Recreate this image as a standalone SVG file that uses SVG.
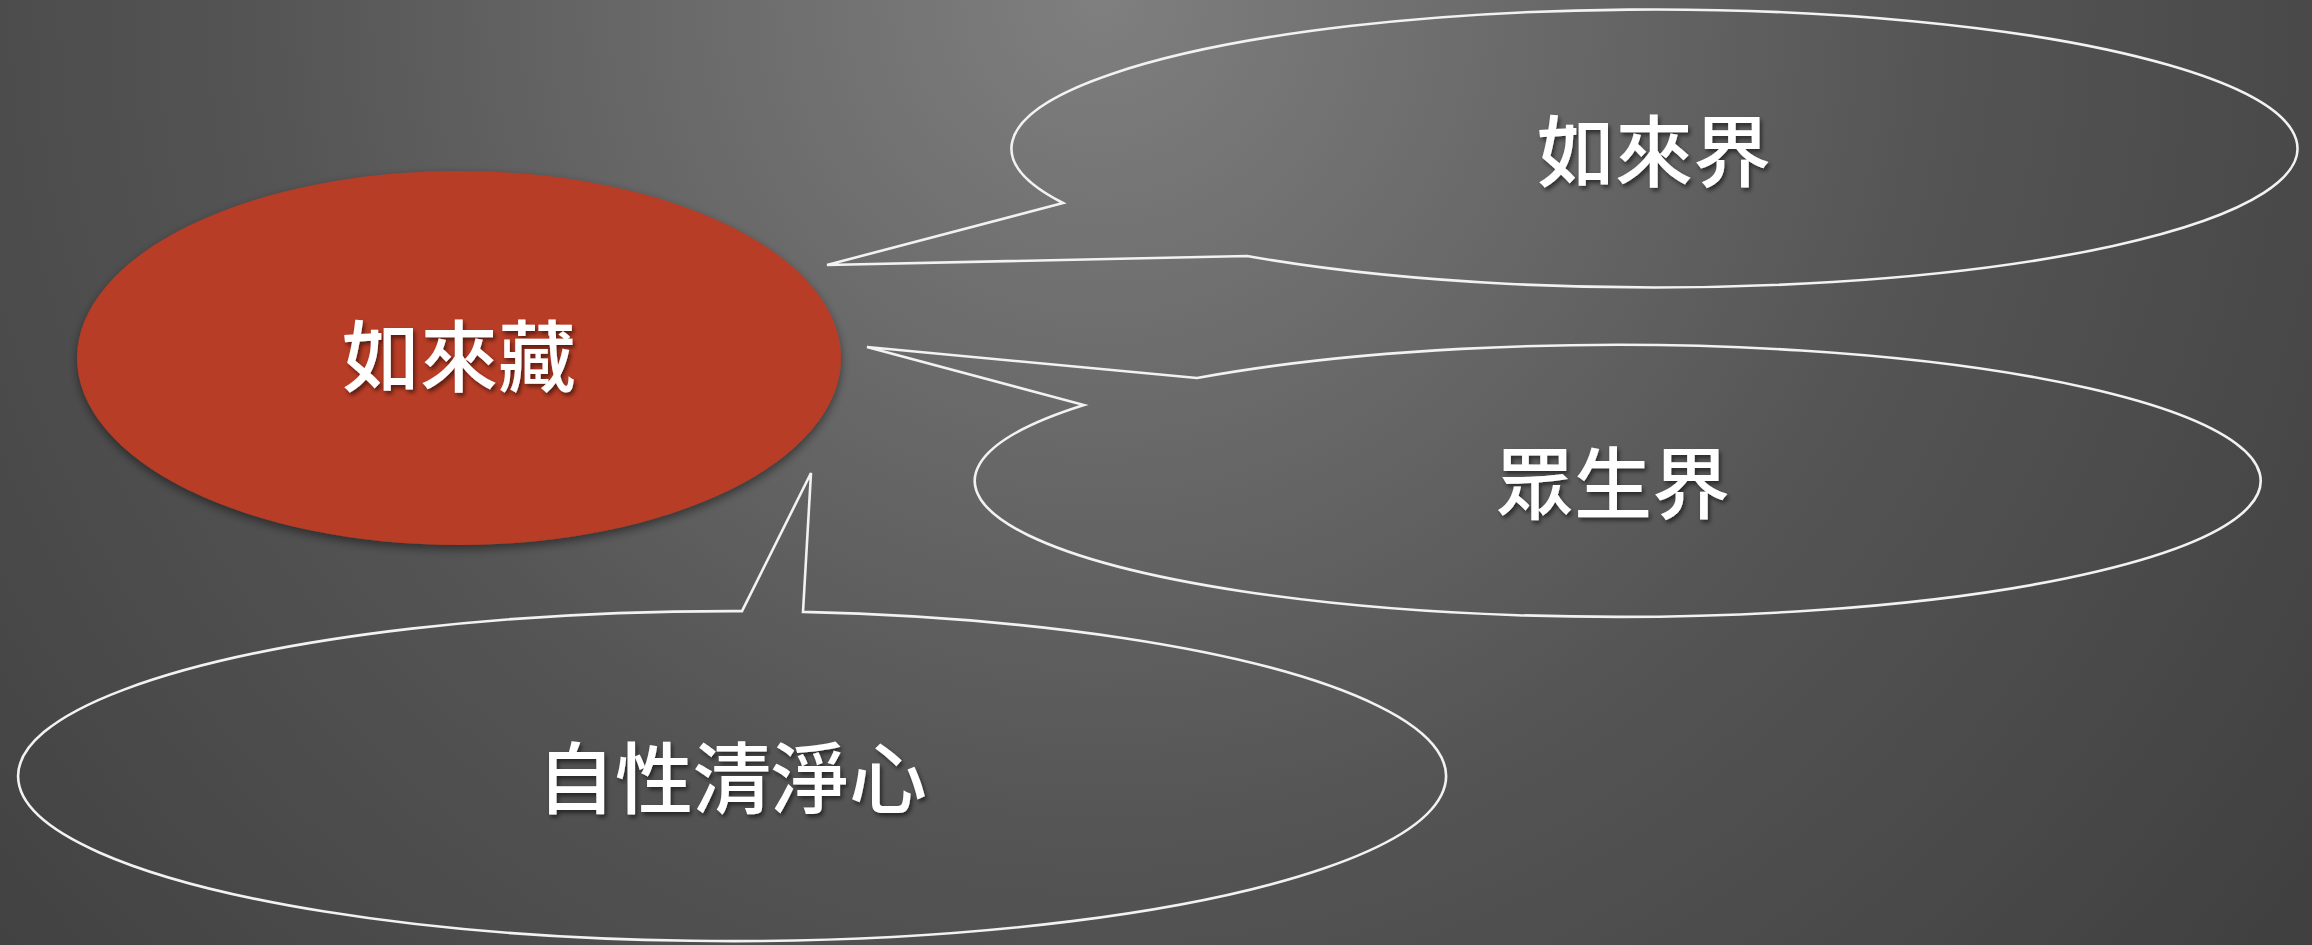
<svg xmlns="http://www.w3.org/2000/svg" width="2312" height="945" viewBox="0 0 2312 945">
<style>
.lbl{font-family:"Noto Sans CJK TC","Noto Sans CJK SC",sans-serif;font-size:78px;font-weight:500;fill:#ffffff;text-anchor:middle;filter:url(#tshadow)}
.bubble{fill:none;stroke:#f2f2f2;stroke-width:2.6;stroke-linejoin:miter}
</style>
<defs>
<radialGradient id="bg" gradientUnits="userSpaceOnUse" cx="1100" cy="0" r="1700">
<stop offset="0" stop-color="#7f7f7f"/>
<stop offset="0.5" stop-color="#545454"/>
<stop offset="1" stop-color="#3a3a3a"/>
</radialGradient>
<filter id="tshadow" x="-20%" y="-20%" width="140%" height="140%">
<feDropShadow dx="2" dy="3" stdDeviation="2" flood-color="#000" flood-opacity="0.55"/>
</filter>
<filter id="eshadow" x="-10%" y="-10%" width="120%" height="125%">
<feDropShadow dx="0" dy="4" stdDeviation="5" flood-color="#000" flood-opacity="0.45"/>
</filter>
</defs>
<rect x="0" y="0" width="2312" height="945" fill="url(#bg)"/>
<g id="connectors"></g>
<g id="node-rulaizang">
<ellipse cx="459" cy="358" rx="382" ry="187" fill="#b83c26" filter="url(#eshadow)"/>
<text class="lbl" x="459" y="386">如來藏</text>
</g>
<g id="node-rulaijie">
<path class="bubble" d="M 1063 203 L 827 265 L 1247 256 A 643 139 0 1 0 1063 203 Z"/>
<text class="lbl" x="1654" y="181">如來界</text>
</g>
<g id="node-zhongshengjie">
<path class="bubble" d="M 1197 378 L 867 347 L 1084 405 A 643 136 0 1 0 1197 378 Z"/>
<text class="lbl" x="1613" y="513">眾生界</text>
</g>
<g id="node-zixing">
<path class="bubble" d="M 742 611.1 L 811 473 L 803 611.9 A 714 165 0 1 1 742 611.1 Z"/>
<text class="lbl" x="732" y="808">自性清淨心</text>
</g>
</svg>
